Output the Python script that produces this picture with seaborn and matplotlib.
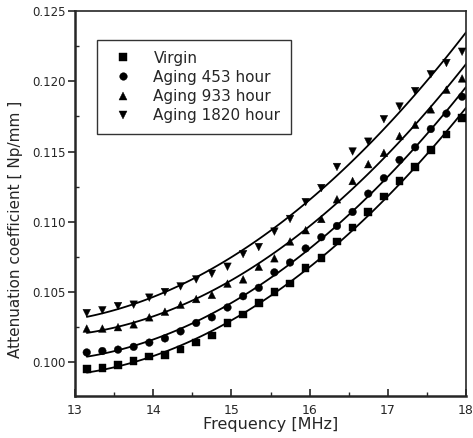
import numpy as np
import pandas as pd
import matplotlib
matplotlib.use("Agg")
import matplotlib.pyplot as plt
import seaborn as sns
from matplotlib.ticker import MultipleLocator, FormatStrFormatter

freq = [13.15, 13.35, 13.55, 13.75, 13.95, 14.15, 14.35, 14.55, 14.75, 14.95,
        15.15, 15.35, 15.55, 15.75, 15.95, 16.15, 16.35, 16.55, 16.75, 16.95,
        17.15, 17.35, 17.55, 17.75, 17.95]

virgin = [0.0995, 0.0996, 0.0998, 0.1001, 0.1004, 0.1005, 0.1009, 0.1014, 0.1019, 0.1028,
          0.1034, 0.1042, 0.1050, 0.1056, 0.1067, 0.1074, 0.1086, 0.1096, 0.1107, 0.1118,
          0.1129, 0.1139, 0.1151, 0.1162, 0.1174]
aging_453 = [0.1007, 0.1008, 0.1009, 0.1011, 0.1014, 0.1017, 0.1022, 0.1028, 0.1032, 0.1039,
             0.1047, 0.1053, 0.1064, 0.1071, 0.1081, 0.1089, 0.1097, 0.1107, 0.1120, 0.1131,
             0.1144, 0.1153, 0.1166, 0.1177, 0.1189]
aging_933 = [0.1024, 0.1024, 0.1025, 0.1027, 0.1032, 0.1036, 0.1041, 0.1045, 0.1048, 0.1056,
             0.1059, 0.1068, 0.1074, 0.1086, 0.1094, 0.1102, 0.1116, 0.1129, 0.1141, 0.1149,
             0.1161, 0.1169, 0.1180, 0.1194, 0.1202]
aging_1820 = [0.1035, 0.1037, 0.1040, 0.1041, 0.1046, 0.1050, 0.1054, 0.1059, 0.1063, 0.1068,
              0.1077, 0.1082, 0.1093, 0.1102, 0.1114, 0.1124, 0.1139, 0.1150, 0.1157, 0.1173,
              0.1182, 0.1193, 0.1205, 0.1213, 0.1221]

series_names = ["Virgin", "Aging 453 hour", "Aging 933 hour", "Aging 1820 hour"]
series_values = [virgin, aging_453, aging_933, aging_1820]
marker_map = {"Virgin": "s", "Aging 453 hour": "o", "Aging 933 hour": "^", "Aging 1820 hour": "v"}

df = pd.concat([pd.DataFrame({"freq": freq, "att": vals, "series": name})
                for name, vals in zip(series_names, series_values)], ignore_index=True)

sns.set_style("ticks")
plt.rcParams["font.family"] = ["DejaVu Sans"]

fig = plt.figure(figsize=(4.73, 4.38), dpi=100)
ax = fig.add_axes([75/473, 1-396/438, (466-75)/473, (396-11)/438])
ax.set_xlim(13, 18)
ax.set_ylim(0.0976, 0.125)
ax.set_autoscale_on(False)

for name in series_names:
    sub = df[df.series == name]
    sns.regplot(data=sub, x="freq", y="att", order=2, ci=None, scatter=False,
                truncate=False, ax=ax, line_kws=dict(color="black", lw=1.3))

# start the fitted curves at the first measured frequency
for ln in ax.lines:
    xd, yd = np.asarray(ln.get_xdata()), np.asarray(ln.get_ydata())
    keep = xd >= freq[0]
    ln.set_data(xd[keep], yd[keep])

sns.scatterplot(data=df, x="freq", y="att", style="series", markers=marker_map,
                style_order=series_names, color="black", s=30, edgecolor="black",
                linewidth=0.3, ax=ax, legend=True, zorder=3)

ax.set_xlim(13, 18)
ax.set_ylim(0.0976, 0.125)

ax.xaxis.set_major_locator(MultipleLocator(1))
ax.xaxis.set_minor_locator(MultipleLocator(0.5))
ax.yaxis.set_major_locator(MultipleLocator(0.005))
ax.yaxis.set_minor_locator(MultipleLocator(0.0025))
ax.yaxis.set_major_formatter(FormatStrFormatter("%.3f"))
ax.xaxis.set_major_formatter(FormatStrFormatter("%d"))

ax.tick_params(axis="x", which="major", direction="in", length=5, width=1.2, labelsize=9, pad=6)
ax.tick_params(axis="x", which="minor", direction="in", length=3, width=1)
ax.tick_params(axis="y", which="major", direction="out", length=5, width=1.2, labelsize=8.5, pad=2)
ax.tick_params(axis="y", which="minor", direction="in", length=3, width=1)

for side in ["left", "bottom"]:
    ax.spines[side].set_linewidth(1.8)
for side in ["top", "right"]:
    ax.spines[side].set_linewidth(1.2)
    ax.spines[side].set_visible(True)

ax.set_xlabel("Frequency [MHz]", fontsize=11.5, labelpad=0)
ax.set_ylabel("Attenuation coefficient [ Np/mm ]", fontsize=11)
ax.yaxis.set_label_coords(-0.134, 0.434)

handles, labels = ax.get_legend_handles_labels()
leg = ax.legend(handles, labels, loc="upper left", bbox_to_anchor=(0.056, 0.925),
                frameon=True, fancybox=False, edgecolor="black", fontsize=11,
                handletextpad=1.0, labelspacing=0.28, borderpad=0.7, markerscale=1.0,
                borderaxespad=0)
leg.get_frame().set_linewidth(1.0)

fig.savefig("out.png", dpi=100)
